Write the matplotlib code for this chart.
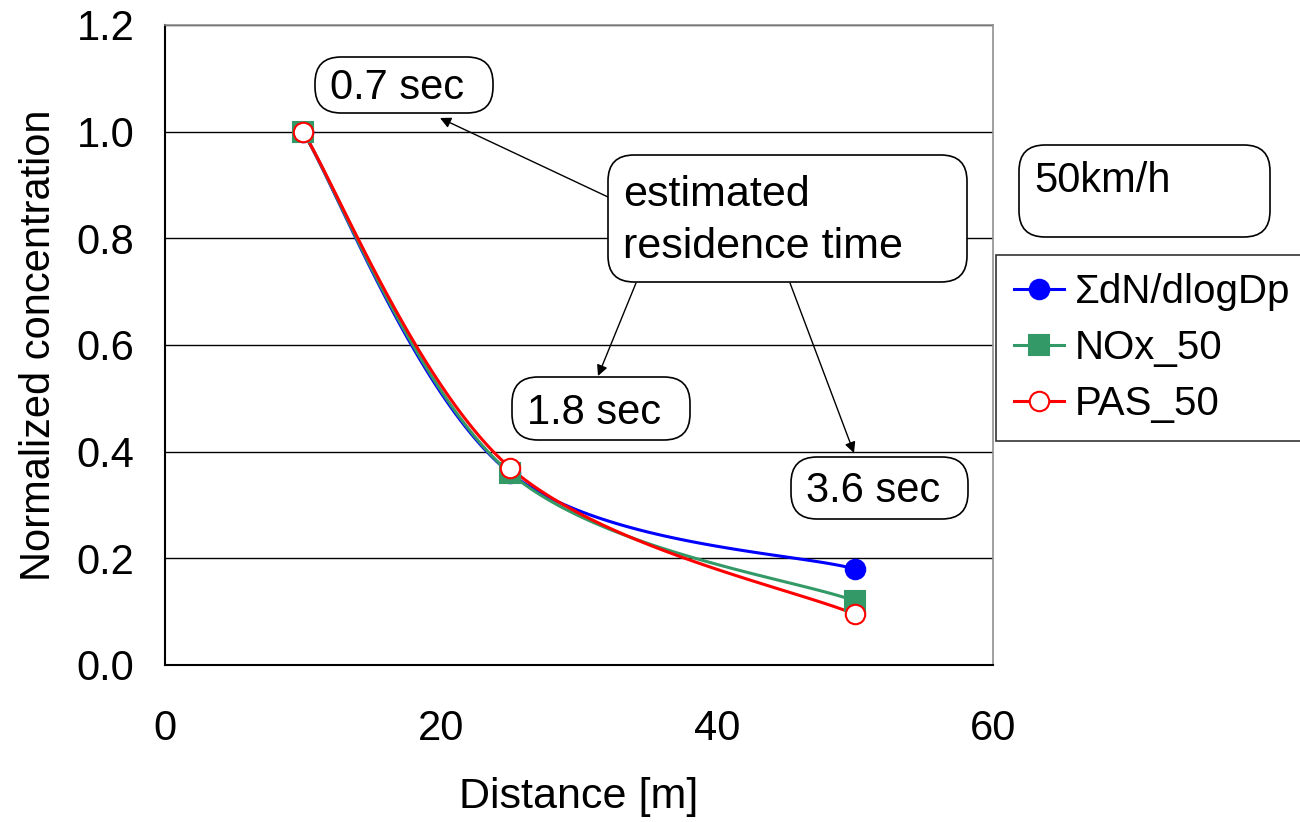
import numpy as np
from matplotlib import pyplot as plt
from matplotlib.patches import FancyBboxPatch

plt.rcParams['font.family'] = ['Liberation Sans', 'DejaVu Sans']

# data
distance = [10, 25, 50]
dn_total = [1.0, 0.36, 0.18]
nox_50 = [1.0, 0.36, 0.12]
pas_50 = [1.0, 0.37, 0.095]
series_names = ['\u03a3dN/dlogDp', 'NOx_50', 'PAS_50']
yticks = [0.0, 0.2, 0.4, 0.6, 0.8, 1.0, 1.2]
xticks = [0, 20, 40, 60]

W, H = 1300, 822


def smooth(x, y, sx, sy, n=60):
    # Excel-like smoothed line (cardinal bezier) computed in pixel scale
    p = np.column_stack([np.asarray(x, float) * sx, np.asarray(y, float) * sy])
    out = []
    for i in range(len(p) - 1):
        p0 = p[i - 1] if i > 0 else p[i]
        p1, p2 = p[i], p[i + 1]
        p3 = p[i + 2] if i + 2 < len(p) else p[i + 1]
        c1 = p1 + (p2 - p0) / 6.0
        c2 = p2 - (p3 - p1) / 6.0
        t = np.linspace(0, 1, n)[:, None]
        seg = (1 - t) ** 3 * p1 + 3 * (1 - t) ** 2 * t * c1 + 3 * (1 - t) * t ** 2 * c2 + t ** 3 * p2
        out.append(seg if i == 0 else seg[1:])
    out = np.vstack(out)
    return out[:, 0] / sx, out[:, 1] / sy


fig = plt.figure(figsize=(W / 100, H / 100), dpi=100)
ax = fig.add_axes([165 / W, 1 - 665 / H, (993 - 165) / W, (665 - 25) / H])

ax.set_xlim(0, 60)
ax.set_ylim(0, 1.2)
ax.set_yticks(yticks)
ax.set_yticklabels([f'{v:.1f}' for v in yticks])
ax.set_xticks(xticks)
ax.yaxis.grid(True, color='black', lw=1.0)
ax.set_axisbelow(True)
ax.tick_params(axis='both', labelsize=30, length=0)
ax.tick_params(axis='y', pad=22)
ax.tick_params(axis='x', pad=32)
for s in ['left', 'bottom']:
    ax.spines[s].set_color('black')
    ax.spines[s].set_linewidth(1.5)
for s in ['top', 'right']:
    ax.spines[s].set_color('#909090')
    ax.spines[s].set_linewidth(1.2)

ax.set_xlabel('Distance [m]', fontsize=31, labelpad=20)
ax.set_ylabel('Normalized concentration', fontsize=30, labelpad=13)

sx, sy = 828 / 60, 640 / 1.2
styles = [
    dict(color='#0000ff', marker='o', mfc='#0000ff', mec='#0000ff', ms=14),
    dict(color='#339966', marker='s', mfc='#339966', mec='#339966', ms=15),
    dict(color='#ff0000', marker='o', mfc='white', mec='#ff0000', ms=14),
]
handles = []
for vals, name, st in zip([dn_total, nox_50, pas_50], series_names, styles):
    xs, ys = smooth(distance, vals, sx, sy)
    ax.plot(xs, ys, color=st['color'], lw=2.2, zorder=3)
    ax.plot(distance, vals, ls='none', marker=st['marker'], ms=st['ms'],
            mfc=st['mfc'], mec=st['mec'], mew=1.5, zorder=4)
    h, = ax.plot([], [], color=st['color'], lw=2.2, marker=st['marker'],
                 ms=st['ms'], mfc=st['mfc'], mec=st['mec'], mew=1.5)
    handles.append(h)

leg = fig.legend(handles, series_names, loc='upper left',
                 bbox_to_anchor=(996 / W, 1 - 255 / H), fontsize=29,
                 frameon=True, fancybox=False, edgecolor='black',
                 handlelength=1.25, handletextpad=0.25, labelspacing=0.45,
                 borderpad=0.45, borderaxespad=0)
leg.get_frame().set_linewidth(1.2)


def callout(x0, y0, x1, y1, text, off, fs=30, ls=1.15):
    # rounded box given in picture pixels (top-left origin)
    box = FancyBboxPatch((x0 / W, 1 - y1 / H), (x1 - x0) / W, (y1 - y0) / H,
                         boxstyle='round,pad=0,rounding_size=0.02',
                         transform=fig.transFigure, facecolor='white',
                         edgecolor='black', lw=1.2, zorder=10,
                         mutation_aspect=W / H)
    fig.add_artist(box)
    fig.text((x0 + 15) / W, 1 - (y0 + off) / H, text, fontsize=fs,
             ha='left', va='top', zorder=11, linespacing=ls)


def arrow(xa, ya, xb, yb):
    ax.annotate('', xy=(xb, H - yb), xycoords='figure pixels',
                xytext=(xa, H - ya), textcoords='figure pixels',
                arrowprops=dict(arrowstyle='-|>', color='black', lw=1.0,
                                mutation_scale=16, shrinkA=0, shrinkB=0),
                zorder=9)


arrow(608, 197, 440, 118)
arrow(636, 283, 598, 376)
arrow(790, 283, 854, 453)

callout(315, 57, 493, 113, '0.7 sec', 11)
callout(608, 155, 967, 282, 'estimated\nresidence time', 20, fs=31, ls=1.38)
callout(512, 377, 690, 440, '1.8 sec', 16)
callout(791, 457, 968, 519, '3.6 sec', 14)
callout(1019, 145, 1270, 237, '50km/h', 16)

fig.savefig('out.png', dpi=100)
